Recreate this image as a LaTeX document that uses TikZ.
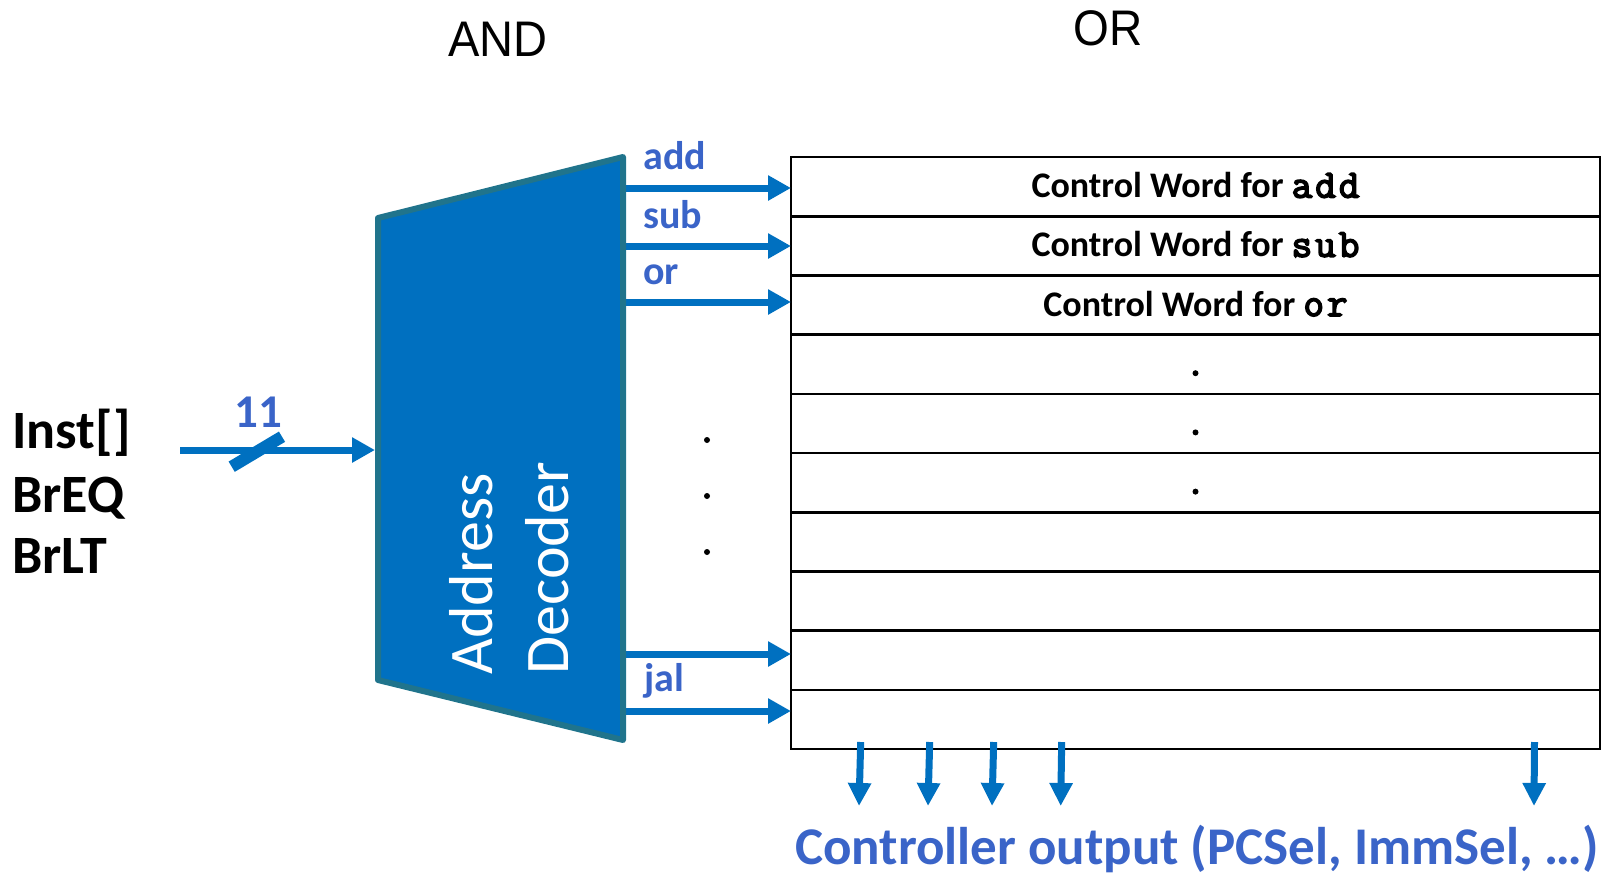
\documentclass[tikz,border=0pt]{standalone}
\usepackage{fontspec}
\setmainfont{Carlito}
\newfontfamily\cwmonofont[FakeBold=4,LetterSpace=7.5]{Latin Modern Mono}
\newfontfamily\titlefont{Liberation Sans}
\usetikzlibrary{arrows.meta}

\definecolor{wireblue}{RGB}{0,112,192}
\definecolor{labelblue}{RGB}{58,100,200}
\definecolor{decoedge}{RGB}{32,116,140}

\newcommand\cwop[1]{{\cwmonofont\fontsize{20}{22}\selectfont #1}}

\begin{document}
\begin{tikzpicture}[x=0.5pt,y=-0.5pt,
  wire/.style={draw=wireblue, line width=3.5pt, -{Triangle[length=11.5pt,width=12pt]}},
  outwire/.style={draw=wireblue, line width=3.5pt, -{Triangle[length=11.5pt,width=11pt]}},
  sig/.style={text=labelblue, font=\bfseries\fontsize{20}{24}\selectfont, anchor=base west, inner sep=0pt},
  cwrow/.style={draw=black, line width=1.3pt, minimum width=404.5pt, minimum height=29.6pt, inner sep=0pt, outer sep=0pt},
  cwtext/.style={font=\bfseries\fontsize{18}{22}\selectfont, anchor=base, inner sep=0pt},
  inlabel/.style={font=\bfseries\fontsize{27}{32}\selectfont, anchor=base west, inner sep=0pt},
  decotext/.style={text=white, font=\fontsize{31}{37}\selectfont, rotate=90, anchor=base west, inner sep=0pt},
  plane/.style={font=\titlefont\fontsize{25}{30}\selectfont, inner sep=0pt},
  dot/.style={fill=black}
]
\useasboundingbox (0,0) rectangle (1612,875);

% plane titles
\node[plane, xscale=0.94] (andT) at (498,39) {AND};
\node[plane, xscale=0.92] (orT) at (1108,28) {OR};

% control word memory rows
\foreach \i in {1,...,10}{
  \node[cwrow] (r\i) at (1195.5,{157+59.2*(\i-0.5)}) {};
}
\node[cwtext] (t1) at ([yshift=-5.5pt]r1.center) {Control Word for \cwop{add}};
\node[cwtext] (t2) at ([yshift=-5.5pt]r2.center) {Control Word for \cwop{sub}};
\node[cwtext] (t3) at ([yshift=-5.5pt]r3.center) {Control Word for \cwop{or}};
\fill[dot] ([yshift=-4.5pt]r4.center) circle (1.5pt);
\fill[dot] ([yshift=-4.5pt]r5.center) circle (1.5pt);
\fill[dot] ([yshift=-4.5pt]r6.center) circle (1.5pt);

% decoder outputs
\coordinate (oAdd) at (623,188);
\coordinate (oSub) at (623,246);
\coordinate (oOr)  at (623,302);
\coordinate (oX)   at (623,654);
\coordinate (oJal) at (623,711);
\draw[wire] (oAdd) -- (oAdd -| r1.west);
\draw[wire] (oSub) -- (oSub -| r2.west);
\draw[wire] (oOr)  -- (oOr -| r3.west);
\draw[wire] (oX)   -- (oX -| r9.west);
\draw[wire] (oJal) -- (oJal -| r10.west);

\node[sig] (lAdd) at (643,169) {add};
\node[sig] (lSub) at (643,228) {sub};
\node[sig] (lOr)  at (643,284) {or};
\node[sig] (lJal) at (644,691) {jal};

% elided outputs
\fill[dot] (707,440) circle (1.5pt);
\fill[dot] (707,496) circle (1.5pt);
\fill[dot] (707,552) circle (1.5pt);

% address decoder
\coordinate (dTL) at (378,218);
\coordinate (dTR) at (623,157);
\coordinate (dBR) at (623,740);
\coordinate (dBL) at (378,680);
\draw[decoedge, fill=wireblue, line width=3pt, line join=round] (dTL) -- (dTR) -- (dBR) -- (dBL) -- cycle;
\node[decotext] (adr) at (492,675) {Address};
\node[decotext] (dec) at (568,675) {Decoder};

% inputs
\node[inlabel] (inst) at (12,448) {Inst[]};
\node[inlabel] (breq) at (12,512) {BrEQ};
\node[inlabel] (brlt) at (12,573) {BrLT};
\coordinate (inS) at (180,450);
\coordinate (inE) at (375,450);
\draw[wire] (inS) -- (inE);
\coordinate (slA) at (231.7,466.7);
\coordinate (slB) at (282,436.7);
\draw[wireblue, line width=6pt] (slA) -- (slB);
\node[text=labelblue, font=\bfseries\fontsize{23.5}{28}\selectfont, anchor=base, inner sep=0pt] (width) at (258,427) {11};

% controller outputs
\foreach \a/\b in {860.7/859, 929.7/928, 993.7/992, 1061.7/1060.7, 1534.5/1534}{
  \draw[outwire] (\a,742) -- (\b,806);
}
\node[text=labelblue, font=\bfseries\fontsize{26.5}{32}\selectfont, anchor=base, inner sep=0pt] (outT) at (1197,864) {Controller output (PCSel, ImmSel, …)};
\end{tikzpicture}
\end{document}
